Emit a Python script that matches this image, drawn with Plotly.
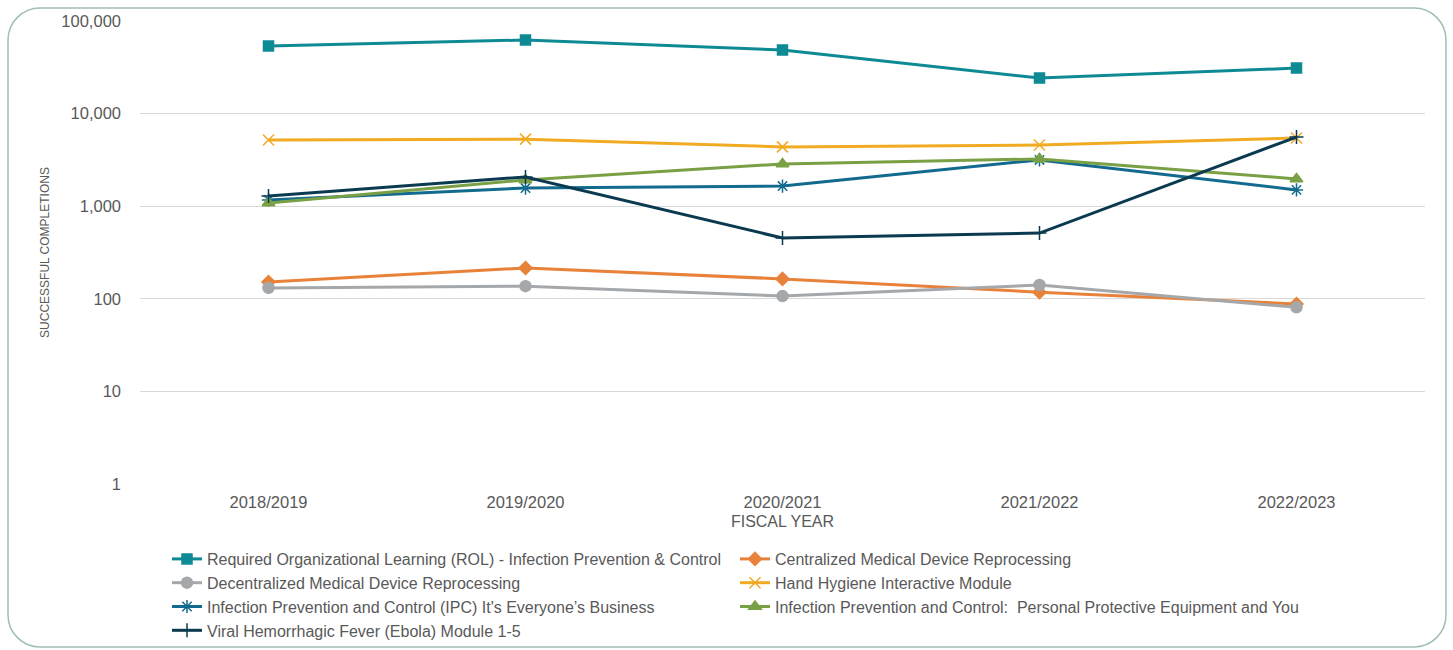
import plotly.graph_objects as go

years = ["2018/2019", "2019/2020", "2020/2021", "2021/2022", "2022/2023"]

rol = [53700, 62400, 48600, 24200, 31000]
centralized = [152, 215, 164, 118, 88]
decentralized = [131, 137, 107, 141, 81]
hand_hygiene = [5190, 5300, 4370, 4580, 5450]
ipc_business = [1170, 1570, 1650, 3160, 1500]
ppe = [1085, 1920, 2860, 3240, 1970]
ebola = [1290, 2070, 454, 513, 5580]

names = [
    "Required Organizational Learning (ROL) - Infection Prevention & Control",
    "Centralized Medical Device Reprocessing",
    "Decentralized Medical Device Reprocessing",
    "Hand Hygiene Interactive Module",
    "Infection Prevention and Control (IPC) It's Everyone\u2019s Business",
    "Infection Prevention and Control:  Personal Protective Equipment and You",
    "Viral Hemorrhagic Fever (Ebola) Module 1-5",
]
series = [rol, centralized, decentralized, hand_hygiene, ipc_business, ppe, ebola]
colors = ["#0e8a95", "#e8823a", "#a5a8ab", "#f0ab22", "#136a8f", "#7aa045", "#0b3a50"]
symbols = ["square", "diamond", "circle", "x-thin-open", "asterisk-open", "triangle-up", "cross-thin-open"]
sizes = [10, 10, 11, 11, 11, 11, 10]

fig = go.Figure()
for n, s, c, sym, sz in zip(names, series, colors, symbols, sizes):
    fig.add_trace(go.Scatter(
        x=years, y=s, name=n, mode="lines+markers",
        line=dict(color=c, width=3),
        marker=dict(symbol=sym, size=sz, color=c, line=dict(color=c, width=1.5)),
    ))

# plot area: x 140..1425, y 21..484
L, R, T, B = 140, 1425, 21, 484
W, H = R - L, B - T

def px(x):
    return (x - L) / W

def py(y):
    return (B - y) / H

bx0, bx1, by0, by1 = 8, 1446, 8, 647
r = 32
k = 0.5523 * r
path = (
    f"M {px(bx0 + r)},{py(by0)} "
    f"L {px(bx1 - r)},{py(by0)} "
    f"C {px(bx1 - r + k)},{py(by0)} {px(bx1)},{py(by0 + r - k)} {px(bx1)},{py(by0 + r)} "
    f"L {px(bx1)},{py(by1 - r)} "
    f"C {px(bx1)},{py(by1 - r + k)} {px(bx1 - r + k)},{py(by1)} {px(bx1 - r)},{py(by1)} "
    f"L {px(bx0 + r)},{py(by1)} "
    f"C {px(bx0 + r - k)},{py(by1)} {px(bx0)},{py(by1 - r + k)} {px(bx0)},{py(by1 - r)} "
    f"L {px(bx0)},{py(by0 + r)} "
    f"C {px(bx0)},{py(by0 + r - k)} {px(bx0 + r - k)},{py(by0)} {px(bx0 + r)},{py(by0)} Z"
)

fig.update_layout(
    width=1453, height=650,
    margin=dict(l=L, r=1453 - R, t=T, b=650 - B, autoexpand=False),
    paper_bgcolor="white", plot_bgcolor="white",
    font=dict(family="Liberation Sans, Arial, sans-serif", size=16, color="#595959"),
    shapes=[dict(type="path", xref="paper", yref="paper", path=path,
                 line=dict(color="#9fbfb3", width=1.5), layer="below")],
    xaxis=dict(
        type="category", range=[-0.5, 4.5], showgrid=False, showline=False, automargin=False,
        ticks="", tickfont=dict(size=16.5, color="#595959"), ticklabelstandoff=6,
        title=dict(text="FISCAL YEAR", font=dict(size=16, color="#595959"), standoff=6),
    ),
    yaxis=dict(
        type="log", range=[0, 5], tickvals=[1, 10, 100, 1000, 10000, 100000],
        tickformat=",", showgrid=True, gridcolor="#d9d9d9", gridwidth=1, automargin=False,
        zeroline=False, showline=False, ticks="", ticklabelstandoff=18,
        tickfont=dict(size=16.5, color="#595959"),
        title=dict(text="SUCCESSFUL COMPLETIONS",
                   font=dict(family="Liberation Sans, Arial, sans-serif", size=12, color="#595959"),
                   standoff=9),
    ),
    legend=dict(
        orientation="h", x=px(167), xanchor="left", y=py(542), yanchor="top",
        entrywidth=523, entrywidthmode="pixels", tracegroupgap=0,
        font=dict(size=16, color="#595959"), itemwidth=30,
        bgcolor="rgba(0,0,0,0)",
    ),
)

fig.write_html("out.html")
